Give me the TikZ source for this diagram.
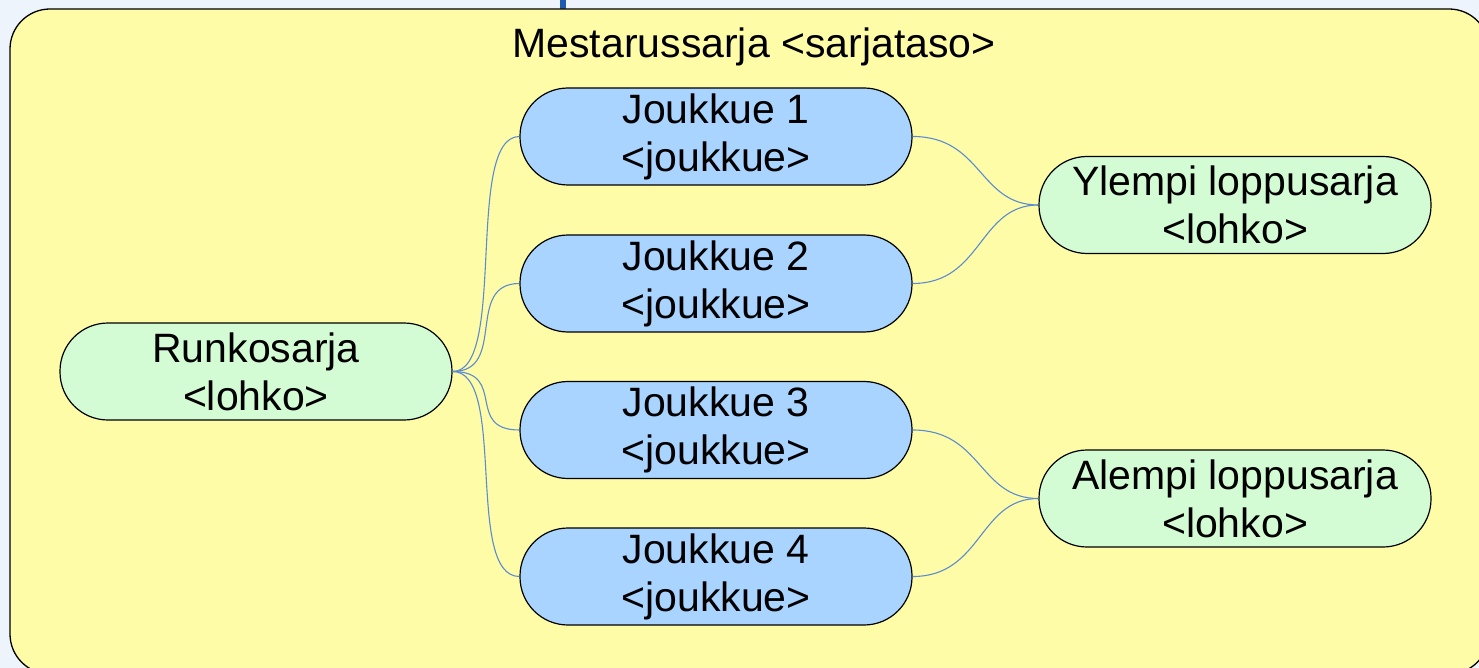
\documentclass[tikz,border=0pt]{standalone}
\usepackage{fontspec}
\setmainfont{Liberation Sans}
\definecolor{bgc}{HTML}{EEF4FB}
\definecolor{yel}{HTML}{FFFCA8}
\definecolor{bluen}{HTML}{A8D4FF}
\definecolor{greenn}{HTML}{D4FCD4}
\definecolor{linec}{HTML}{5B8BD0}
\definecolor{topline}{HTML}{1F5AAF}
\begin{document}
\begin{tikzpicture}[x=1pt,y=-1pt,
  pill/.style={draw=black,line width=1.2pt,rounded corners=48pt,minimum width=392pt,minimum height=97pt,inner sep=0pt,align=center,font=\fontsize{41}{48}\selectfont},
  team/.style={pill,fill=bluen},
  block/.style={pill,fill=greenn},
  link/.style={draw=linec,line width=1.1pt}]
\useasboundingbox[fill=bgc] (0,0) rectangle (1479,668);
\draw[topline,line width=6pt] (563,0) -- (563,10);
\draw[fill=yel,line width=1.3pt,rounded corners=40pt] (10,9) rectangle (1489,674);
\node[font=\fontsize{41}{48}\selectfont] (title) at (754,47) {Mestarussarja <sarjataso>};
\node[block] (runko) at (256,371.5) {Runkosarja\\<lohko>};
\node[team] (j1) at (716,136.5) {Joukkue 1\\<joukkue>};
\node[team] (j2) at (716,283.5) {Joukkue 2\\<joukkue>};
\node[team] (j3) at (716,430) {Joukkue 3\\<joukkue>};
\node[team] (j4) at (716,576.5) {Joukkue 4\\<joukkue>};
\node[block] (ylempi) at (1235,205) {Ylempi loppusarja\\<lohko>};
\node[block] (alempi) at (1235,498.5) {Alempi loppusarja\\<lohko>};
\foreach \t in {j1,j2,j3,j4}{
  \draw[link] (runko.east) .. controls +(55,0) and +(-55,0) .. (\t.west);
}
\draw[link] (j1.east) .. controls +(70,0) and +(-60,0) .. (ylempi.west);
\draw[link] (j2.east) .. controls +(70,0) and +(-60,0) .. (ylempi.west);
\draw[link] (j3.east) .. controls +(70,0) and +(-60,0) .. (alempi.west);
\draw[link] (j4.east) .. controls +(70,0) and +(-60,0) .. (alempi.west);
\end{tikzpicture}
\end{document}
